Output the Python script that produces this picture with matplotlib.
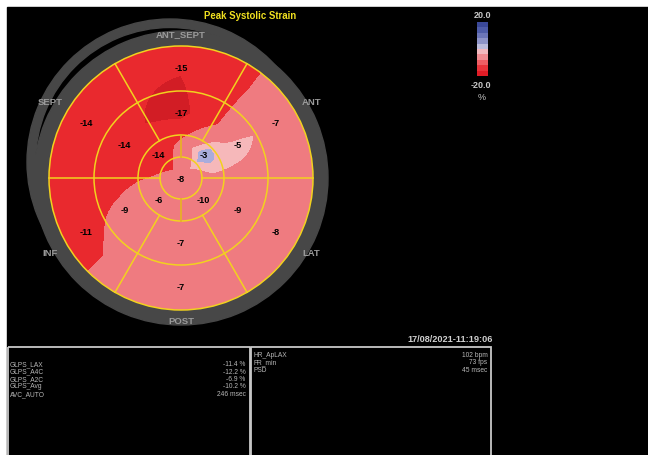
import numpy as np
import matplotlib.pyplot as plt
from matplotlib.patches import Circle, Wedge, Rectangle
from matplotlib.colors import ListedColormap

# 17 segment bull's eye, peak systolic strain (%)
walls = ["ANT_SEPT", "ANT", "LAT", "POST", "INF", "SEPT"]
wall_angles = [90, 30, -30, -90, -150, 150]
basal = [-15, -7, -8, -7, -11, -14]
mid = [-17, -5, -9, -7, -9, -14]
apical_angles = [45, -45, -135, 135]
apical = [-3, -10, -6, -14]
apex = -8

glps_names = ["GLPS_LAX", "GLPS_A4C", "GLPS_A2C", "GLPS_Avg", "AVC_AUTO"]
glps_values = ["-11.4 %", "-12.2 %", "-6.9 %", "-10.2 %", "246 msec"]
info_names = ["HR_ApLAX", "FR_min", "PSD"]
info_values = ["102 bpm", "73 fps", "45 msec"]
timestamp = "17/08/2021-11:19:06"
cbar_min, cbar_max = -20.0, 20.0

plt.rcParams['font.family'] = ['Liberation Sans', 'DejaVu Sans']

# layout (pixel coordinates)
cx, cy = 181, 178
radii = [21, 43, 87, 132]
yellow = "#f2d21e"
map_levels = [-30, -15.3, -10.0, -5.8, -4.3, 30]
map_colors = ["#d21d25", "#e9292e", "#ef7b80", "#f6b8ba", "#a9acdc"]
cbar_colors = ["#e01c26", "#e8333a", "#ee5e64", "#f08c92", "#f2b8be",
               "#bcbcdc", "#8e94c8", "#6c76b8", "#4e5ca8", "#3a4898"]


def ring_profile(theta, angles, values):
    # periodic linear interpolation along the ring
    a = np.array(angles, float) % 360
    order = np.argsort(a)
    a = a[order]
    v = np.array(values, float)[order]
    a = np.concatenate([a - 360, a, a + 360])
    v = np.concatenate([v, v, v])
    return np.interp(theta % 360, a, v)


def strain_field(X, Y):
    r = np.hypot(X - cx, Y - cy)
    th = np.degrees(np.arctan2(cy - Y, X - cx))
    nodes = [0, (radii[0] + radii[1]) / 2, (radii[1] + radii[2]) / 2,
             (radii[2] + radii[3]) / 2, radii[3] + 2]
    prof = [np.full_like(r, apex, dtype=float),
            ring_profile(th, apical_angles, apical),
            ring_profile(th, wall_angles, mid),
            ring_profile(th, wall_angles, basal),
            ring_profile(th, wall_angles, basal)]
    F = np.full_like(r, np.nan, dtype=float)
    for k in range(len(nodes) - 1):
        m = (r >= nodes[k]) & (r < nodes[k + 1])
        t = (r[m] - nodes[k]) / (nodes[k + 1] - nodes[k])
        F[m] = prof[k][m] * (1 - t) + prof[k + 1][m] * t
    return F


fig = plt.figure(figsize=(6.48, 4.55), dpi=100, facecolor="white")
ax = fig.add_axes([0, 0, 1, 1])
ax.set_xlim(0, 648)
ax.set_ylim(455, 0)
ax.axis("off")
ax.add_patch(Rectangle((7, 7), 641, 448, color="black", zorder=0))

# gray rings behind the map
ax.add_patch(Wedge((170, 162), 143, 0, 360, width=8.5, color="#474747", zorder=1))
ax.add_patch(Wedge((cx, cy), 147, 0, 360, width=15, color="#474747", zorder=1))

# interpolated strain map
xs = np.linspace(cx - 134, cx + 134, 537)
ys = np.linspace(cy - 134, cy + 134, 537)
X, Y = np.meshgrid(xs, ys)
F = strain_field(X, Y)
cs = ax.contourf(X, Y, F, levels=map_levels, colors=map_colors, zorder=2)
clip = Circle((cx, cy), radii[-1], transform=ax.transData)
cs.set_clip_path(clip)

# segment borders
for rr in radii:
    ax.add_patch(Circle((cx, cy), rr, fill=False, ec=yellow, lw=1.1, zorder=3))
for a in [60, 120, 240, 300]:
    t = np.radians(a)
    ax.plot([cx + radii[1] * np.cos(t), cx + radii[3] * np.cos(t)],
            [cy - radii[1] * np.sin(t), cy - radii[3] * np.sin(t)],
            color=yellow, lw=1.1, zorder=3)
for a in [0, 180]:
    t = np.radians(a)
    ax.plot([cx + radii[0] * np.cos(t), cx + radii[3] * np.cos(t)],
            [cy, cy], color=yellow, lw=1.1, zorder=3)
for a in [90, 270]:
    t = np.radians(a)
    ax.plot([cx, cx], [cy - radii[0] * np.sin(t), cy - radii[1] * np.sin(t)],
            color="#e8b028", lw=1.3, zorder=3)

# segment values
lab = dict(ha="center", va="center", fontsize=6.6, fontweight="bold",
           color="black", zorder=4)
r_bas = (radii[2] + radii[3]) / 2
r_mid = (radii[1] + radii[2]) / 2
r_api = (radii[0] + radii[1]) / 2
for a, vb, vm in zip(wall_angles, basal, mid):
    t = np.radians(a)
    ax.text(cx + r_bas * np.cos(t), cy - r_bas * np.sin(t), str(vb), **lab)
    ax.text(cx + r_mid * np.cos(t), cy - r_mid * np.sin(t), str(vm), **lab)
for a, va in zip(apical_angles, apical):
    t = np.radians(a)
    ax.text(cx + r_api * np.cos(t), cy - r_api * np.sin(t), str(va), **lab)
ax.text(cx, cy + 1, str(apex), **lab)

# wall names on the ring
for name, a in zip(walls, wall_angles):
    t = np.radians(a)
    rl = 143 + 9 * abs(np.cos(t))
    ax.text(cx + rl * np.cos(t), cy - rl * np.sin(t), name, ha="center",
            va="center", fontsize=6.8, fontweight="bold", color="#9a9a9a", zorder=4)

ax.text(250, 16, "Peak Systolic Strain", ha="center", va="center",
        fontsize=6.9, fontweight="bold", color="#f0e020")

# colour bar
cb = np.linspace(cbar_min, cbar_max, 200).reshape(-1, 1)
ax.imshow(cb, cmap=ListedColormap(cbar_colors), vmin=cbar_min, vmax=cbar_max,
          extent=[477, 487.5, 76.5, 22.5], origin="lower", aspect="auto",
          interpolation="nearest", zorder=2)
ax.text(482, 15.5, f"{cbar_max:.1f}", ha="center", va="center", fontsize=6.5,
        fontweight="bold", color="#c8c8c8")
ax.text(481, 85, f"{cbar_min:.1f}", ha="center", va="center", fontsize=6.5,
        fontweight="bold", color="#c8c8c8")
ax.text(482, 97.5, "%", ha="center", va="center", fontsize=6.5, color="#c8c8c8")

# measurement panels
ax.text(493, 340, timestamp, ha="right", va="center", fontsize=6.6,
        fontweight="bold", color="#d0d0d0")
ax.add_patch(Rectangle((8, 347), 241.5, 120, fill=False, ec="#c8c8c8", lw=1.3, zorder=3))
ax.add_patch(Rectangle((251, 347), 240, 120, fill=False, ec="#c8c8c8", lw=1.3, zorder=3))
txt = dict(va="center", fontsize=4.8, color="#b8b8b8")
for i, (n, v) in enumerate(zip(glps_names, glps_values)):
    y = 364.7 + 7.4 * i
    ax.text(10, y, n, ha="left", **txt)
    ax.text(245.5, y, v, ha="right", **txt)
for i, (n, v) in enumerate(zip(info_names, info_values)):
    y = 355.2 + 7.4 * i
    ax.text(253, y, n, ha="left", **txt)
    ax.text(487.5, y, v, ha="right", **txt)

fig.savefig("out.png", dpi=100, facecolor=fig.get_facecolor())
